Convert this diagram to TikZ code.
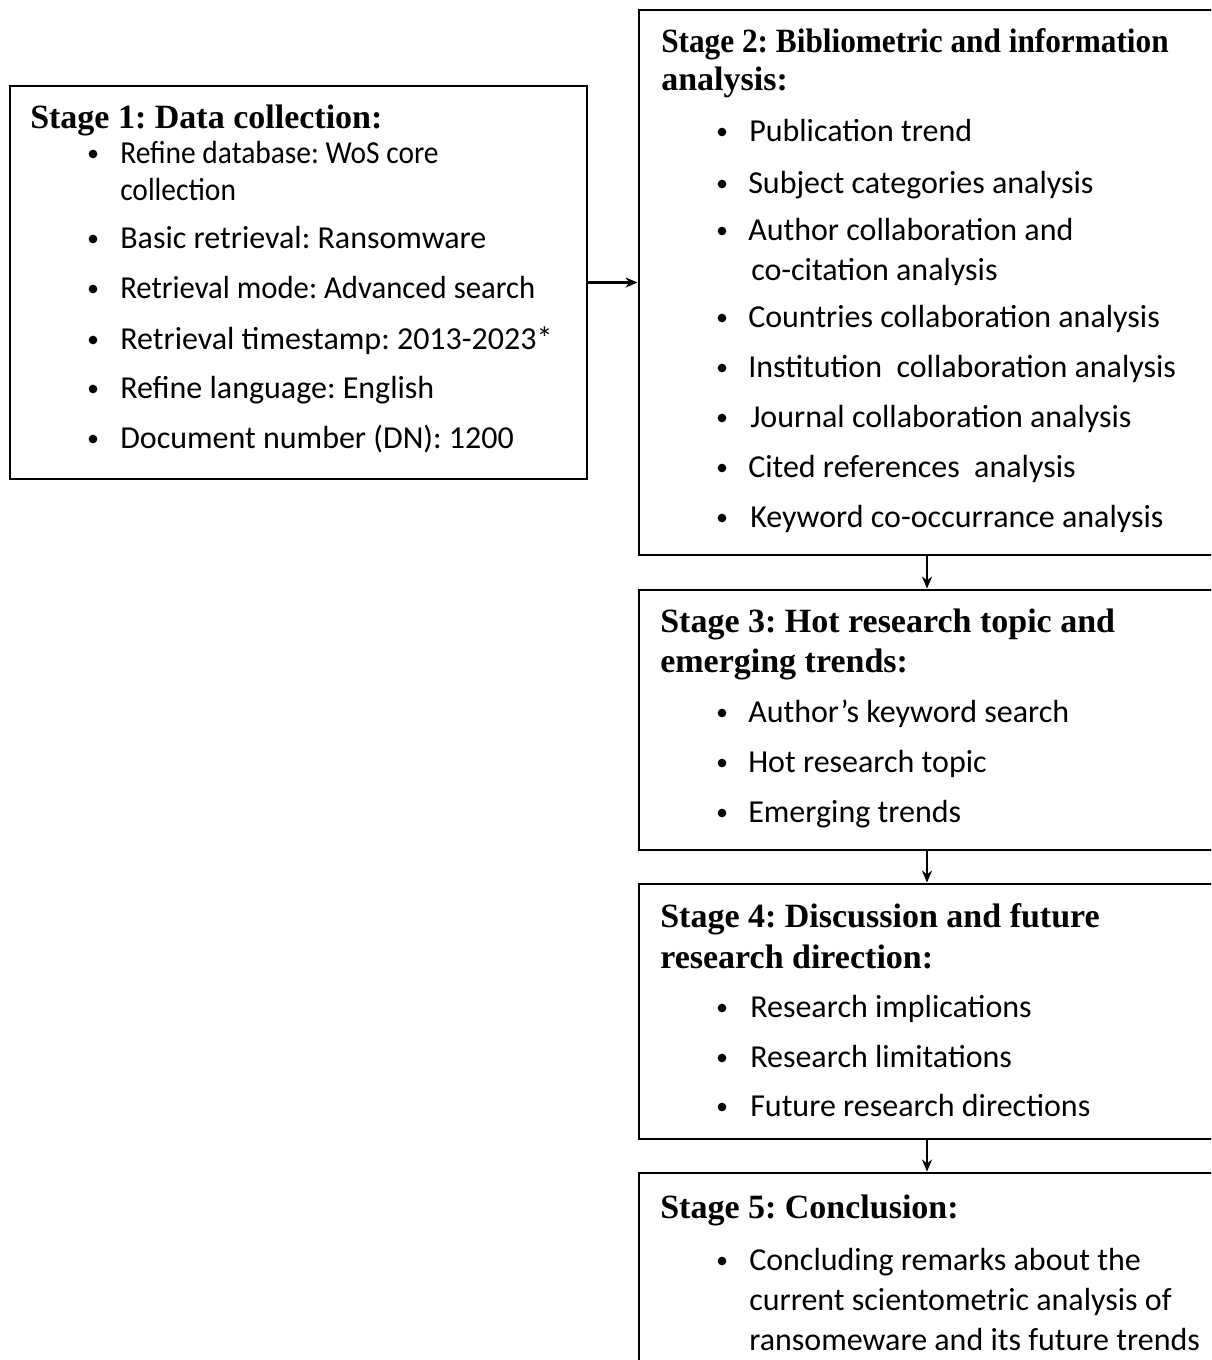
\documentclass[tikz,border=0pt]{standalone}
\usepackage{fontspec}
\setmainfont{Carlito}
\newfontfamily\bodynarrow[FakeStretch=0.92]{Carlito}
\newfontfamily\bodysemi[FakeStretch=0.96]{Carlito}
\newfontfamily\ttlfont{Liberation Serif}
\newfontfamily\ttlnarrow[FakeStretch=0.92]{Liberation Serif}
\usetikzlibrary{arrows.meta,fit}
\frenchspacing
\begin{document}
\begin{tikzpicture}[x=0.75pt,y=-0.75pt,
  stagebox/.style={draw=black, line width=2.2pt, inner sep=0pt},
  ttl/.style={anchor=mid west, inner sep=0pt, font=\ttlfont\bfseries\fontsize{25.5}{30}\selectfont},
  ttln/.style={anchor=mid west, inner sep=0pt, font=\ttlnarrow\bfseries\fontsize{25.5}{30}\selectfont},
  itm/.style={anchor=mid west, inner sep=0pt, font=\fontsize{24}{29}\selectfont},
  itmn/.style={itm, font=\bodynarrow\fontsize{24}{29}\selectfont},
  itms/.style={itm, font=\bodysemi\fontsize{24}{29}\selectfont},
  bul/.style={circle, fill=black, inner sep=0pt, minimum size=6.5pt},
  conn/.style={-{Stealth[length=9pt,width=7.5pt]}, line width=1.8pt}]
\useasboundingbox (0,0) rectangle (1211,1360);
\clip (0,0) rectangle (1211,1360);
% boxes
\coordinate (a1) at (10,86);   \coordinate (b1) at (587,479);
\coordinate (a2) at (639,10);  \coordinate (b2) at (1230,555);
\coordinate (a3) at (639,590); \coordinate (b3) at (1230,850);
\coordinate (a4) at (639,884); \coordinate (b4) at (1230,1139);
\coordinate (a5) at (639,1173);\coordinate (b5) at (1230,1400);
\node[stagebox, fit=(a1)(b1)] (s1) {};
\node[stagebox, fit=(a2)(b2)] (s2) {};
\node[stagebox, fit=(a3)(b3)] (s3) {};
\node[stagebox, fit=(a4)(b4)] (s4) {};
\node[stagebox, fit=(a5)(b5)] (s5) {};
% Stage 1
\node[ttl] (t1) at (30,125) {Stage 1: Data collection:};
\node[bul] (p11) at (93,154) {}; \node[itmn] (i11) at (120,160) {Refine database: WoS core};
\node[itmn] (i11b) at (120,197) {collection};
\node[bul] (p12) at (93,239) {}; \node[itm] (i12) at (120,245) {Basic retrieval: Ransomware};
\node[bul] (p13) at (93,289) {}; \node[itms] (i13) at (120,295) {Retrieval mode: Advanced search};
\node[bul] (p14) at (93,340) {}; \node[itm] (i14) at (120,346) {Retrieval timestamp: 2013-2023*};
\node[bul] (p15) at (93,389) {}; \node[itm] (i15) at (120,395) {Refine language: English};
\node[bul] (p16) at (93,439) {}; \node[itm] (i16) at (120,445) {Document number (DN): 1200};
% Stage 2
\node[ttln] (t2a) at (661,49) {Stage 2: Bibliometric and information};
\node[ttl] (t2b) at (661,87) {analysis:};
\node[bul] (p21) at (722,132) {}; \node[itm] (i21) at (749,138) {Publication trend};
\node[bul] (p22) at (722,184) {}; \node[itm] (i22) at (748,190) {Subject categories analysis};
\node[bul] (p23) at (722,231) {}; \node[itm] (i23) at (748,237) {Author collaboration and};
\node[itm] (i23b) at (751,277) {co-citation analysis};
\node[bul] (p24) at (722,318) {}; \node[itm] (i24) at (748,324) {Countries collaboration analysis};
\node[bul] (p25) at (722,368) {}; \node[itm] (i25) at (748,374) {Institution\ \ collaboration analysis};
\node[bul] (p26) at (722,418) {}; \node[itm] (i26) at (750,424) {Journal collaboration analysis};
\node[bul] (p27) at (722,468) {}; \node[itm] (i27) at (748,474) {Cited references\ \ analysis};
\node[bul] (p28) at (722,518) {}; \node[itm] (i28) at (750,524) {Keyword co-occurrance analysis};
% Stage 3
\node[ttl] (t3a) at (660,629) {Stage 3: Hot research topic and};
\node[ttl] (t3b) at (660,669) {emerging trends:};
\node[bul] (p31) at (722,713) {}; \node[itm] (i31) at (748,719) {Author’s keyword search};
\node[bul] (p32) at (722,763) {}; \node[itm] (i32) at (748,769) {Hot research topic};
\node[bul] (p33) at (722,813) {}; \node[itm] (i33) at (748,819) {Emerging trends};
% Stage 4
\node[ttl] (t4a) at (660,924) {Stage 4: Discussion and future};
\node[ttl] (t4b) at (660,965) {research direction:};
\node[bul] (p41) at (722,1008) {}; \node[itm] (i41) at (750,1014) {Research implications};
\node[bul] (p42) at (722,1058) {}; \node[itm] (i42) at (750,1064) {Research limitations};
\node[bul] (p43) at (722,1107) {}; \node[itm] (i43) at (750,1113) {Future research directions};
% Stage 5
\node[ttl] (t5) at (660,1215) {Stage 5: Conclusion:};
\node[bul] (p51) at (722,1261) {}; \node[itm] (i51) at (749,1267) {Concluding remarks about the};
\node[itm] (i51b) at (749,1307) {current scientometric analysis of};
\node[itm] (i51c) at (749,1347) {ransomeware and its future trends};
% connectors
\coordinate (ax) at (927,0);
\draw[conn] (s1.east) -- (s1.east -| s2.west);
\draw[conn] (s2.south -| ax) -- (s3.north -| ax);
\draw[conn] (s3.south -| ax) -- (s4.north -| ax);
\draw[conn] (s4.south -| ax) -- (s5.north -| ax);
\end{tikzpicture}
\end{document}
